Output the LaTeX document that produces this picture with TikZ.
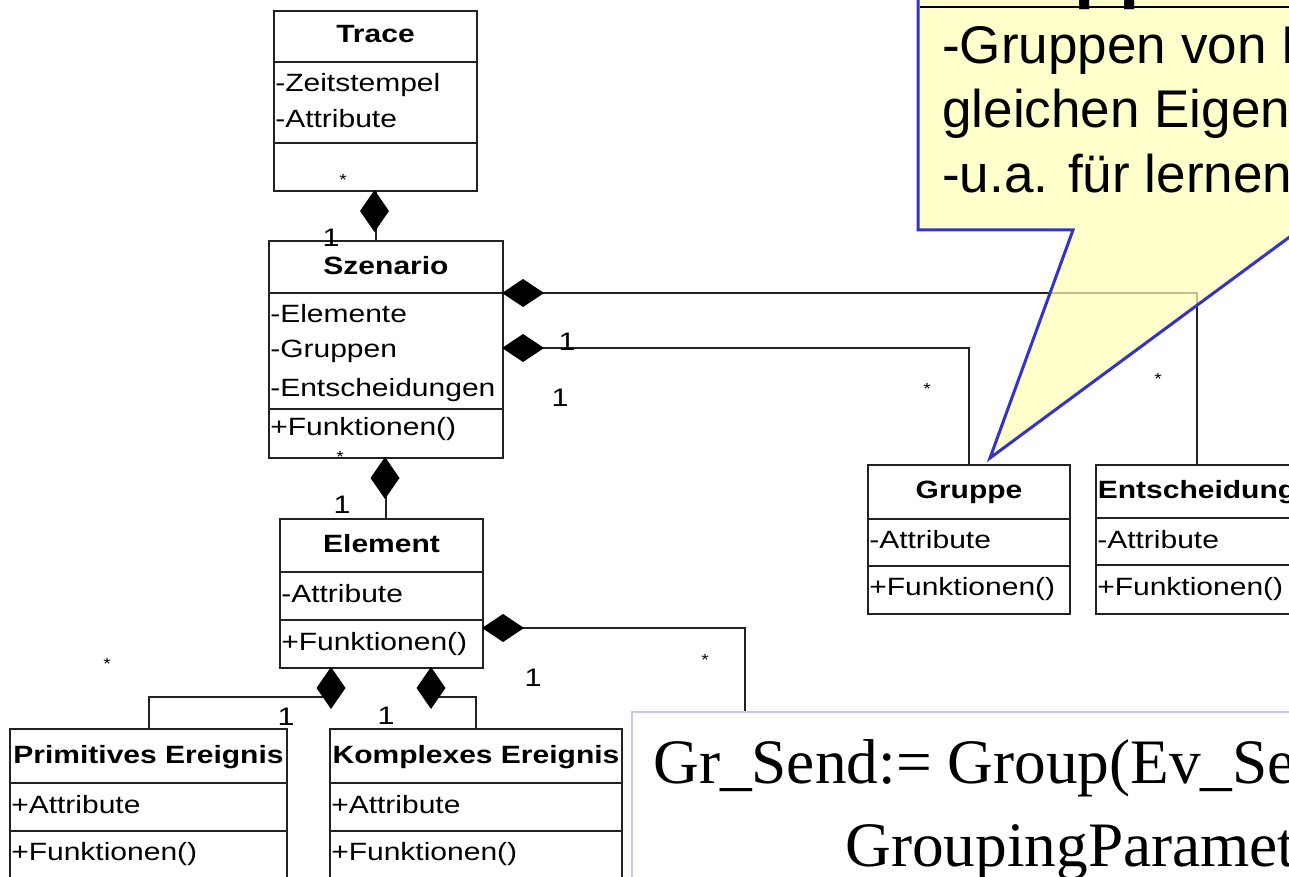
\documentclass[tikz,border=0pt]{standalone}
\usepackage{fontspec}
\setmainfont{Liberation Sans}
\newfontfamily\umlfont[FakeStretch=1.2]{Liberation Sans}
\newfontfamily\codefont{Liberation Serif}
\usetikzlibrary{calc}
\definecolor{noteblue}{HTML}{3333CC}
\definecolor{noteyellow}{HTML}{FFFFB8}
\definecolor{codeframe}{HTML}{C8C8F0}
\definecolor{umlline}{HTML}{222222}

% filled composition diamonds: vertical (tip on top) and horizontal (tip on the left)
\newcommand\vdia[2]{\fill[black] (#1,#2) -- ++(14.5,21) -- ++(-14.5,21) -- ++(-14.5,-21) -- cycle;}
\newcommand\hdia[2]{\fill[black] (#1,#2) -- ++(21,-14) -- ++(21,14) -- ++(-21,14) -- cycle;}

\tikzset{
  cls/.style={draw=umlline, line width=1.5pt, inner sep=0pt, anchor=north west, fill=white},
  sep/.style={draw=umlline, line width=1.5pt},
  assoc/.style={draw=umlline, line width=1.5pt},
  ttl/.style={font=\umlfont\fontsize{18.75}{20}\selectfont\bfseries, anchor=base, inner sep=0pt},
  mem/.style={font=\umlfont\fontsize{18.75}{20}\selectfont, anchor=base west, inner sep=0pt},
  mult/.style={font=\umlfont\fontsize{19}{20}\selectfont, inner sep=0pt},
  star/.style={font=\umlfont\fontsize{12}{12}\selectfont, inner sep=0pt},
  notetext/.style={font=\fontsize{39.8}{48}\selectfont, anchor=base west, inner sep=0pt},
  codetext/.style={font=\codefont\fontsize{47.5}{56}\selectfont, anchor=base west, inner sep=0pt},
}

\begin{document}
\begin{tikzpicture}[x=0.75pt,y=-0.75pt]
\useasboundingbox (0,0) rectangle (1289,877);
\fill[white] (0,0) rectangle (1289,877);
\clip (0,0) rectangle (1289,877);

% ---------- class boxes ----------
\node[cls, minimum width=203*0.75pt, minimum height=180*0.75pt] (trace) at (273,10) {};
\node[cls, minimum width=234*0.75pt, minimum height=217*0.75pt] (szen) at (268,240) {};
\node[cls, minimum width=203*0.75pt, minimum height=149*0.75pt] (elem) at (279,518) {};
\node[cls, minimum width=202*0.75pt, minimum height=149*0.75pt] (grp) at (867,464) {};
\node[cls, minimum width=202*0.75pt, minimum height=149*0.75pt] (ent) at (1095,464) {};
\node[cls, minimum width=277*0.75pt, minimum height=200*0.75pt] (prim) at (9,728) {};
\node[cls, minimum width=292*0.75pt, minimum height=200*0.75pt] (komp) at (329,728) {};

% compartment separators
\draw[sep] (trace.west |- 0,62) -- (trace.east |- 0,62);
\draw[sep] (trace.west |- 0,143) -- (trace.east |- 0,143);
\draw[sep] (szen.west |- 0,293) -- (szen.east |- 0,293);
\draw[sep] (szen.west |- 0,409) -- (szen.east |- 0,409);
\draw[sep] (elem.west |- 0,572) -- (elem.east |- 0,572);
\draw[sep] (elem.west |- 0,620) -- (elem.east |- 0,620);
\draw[sep] (grp.west |- 0,519) -- (grp.east |- 0,519);
\draw[sep] (grp.west |- 0,566) -- (grp.east |- 0,566);
\draw[sep] (ent.west |- 0,518) -- (ent.east |- 0,518);
\draw[sep] (ent.west |- 0,565) -- (ent.east |- 0,565);
\draw[sep] (prim.west |- 0,783) -- (prim.east |- 0,783);
\draw[sep] (prim.west |- 0,831) -- (prim.east |- 0,831);
\draw[sep] (komp.west |- 0,783) -- (komp.east |- 0,783);
\draw[sep] (komp.west |- 0,831) -- (komp.east |- 0,831);

% class texts
\node[ttl] (traceT) at (trace.north |- 0,43) {Trace};
\node[mem] (traceA1) at (275,92) {-Zeitstempel};
\node[mem] (traceA2) at (275,128) {-Attribute};

\node[ttl] (szenT) at (szen.north |- 0,275) {Szenario};
\node[mem] (szenA1) at (270,323) {-Elemente};
\node[mem] (szenA2) at (270,358) {-Gruppen};
\node[mem] (szenA3) at (270,397) {-Entscheidungen};
\node[mem] (szenO1) at (270,435) {+Funktionen()};

\node[ttl] (elemT) at (elem.north |- 0,552) {Element};
\node[mem] (elemA1) at (281,602) {-Attribute};
\node[mem] (elemO1) at (281,650) {+Funktionen()};

\node[ttl] (grpT) at (grp.north |- 0,498) {Gruppe};
\node[mem] (grpA1) at (869,548) {-Attribute};
\node[mem] (grpO1) at (869,595) {+Funktionen()};

\node[ttl] (entT) at (ent.north |- 0,498) {Entscheidung};
\node[mem] (entA1) at (1097,548) {-Attribute};
\node[mem] (entO1) at (1097,595) {+Funktionen()};

\node[ttl] (primT) at (prim.north |- 0,763) {Primitives Ereignis};
\node[mem] (primA1) at (11,813) {+Attribute};
\node[mem] (primO1) at (11,860) {+Funktionen()};

\node[ttl] (kompT) at (komp.north |- 0,763) {Komplexes Ereignis};
\node[mem] (kompA1) at (331,813) {+Attribute};
\node[mem] (kompO1) at (331,860) {+Funktionen()};

% ---------- composition connectors ----------
\coordinate (hid) at (745,711);
\draw[assoc] (trace.south) -- (szen.north -| trace.south);
\draw[assoc] (szen.south) -- (elem.north -| szen.south);
\draw[assoc] (szen.east |- 0,293) -| (ent.north);
\draw[assoc] (szen.east |- 0,348) -| (grp.north);
\draw[assoc] (elem.east |- 0,628) -| (hid);
\draw[assoc] (elem.south -| 331,0) -- (331,697) -| (prim.north);
\draw[assoc] (elem.south -| 431,0) -- (431,697) -| (komp.north);

\vdia{374.5}{190}
\vdia{385}{457}
\hdia{502}{293}
\hdia{502}{348}
\hdia{482}{628}
\vdia{331}{667}
\vdia{431}{667}

% multiplicities
\node[star] (m1) at (343,180) {*};
\node[mult] (m2) at (331,238) {1};
\node[star] (m3) at (340,457) {*};
\node[mult] (m4) at (342,505) {1};
\node[mult] (m5) at (567,342) {1};
\node[mult] (m6) at (560,398) {1};
\node[star] (m7) at (927,389) {*};
\node[star] (m8) at (1158,379) {*};
\node[star] (m9) at (705,660) {*};
\node[mult] (m10) at (533,678) {1};
\node[star] (m11) at (107,664) {*};
\node[mult] (m12) at (286,717) {1};
\node[mult] (m13) at (386,716) {1};

% ---------- callout ----------
\path[fill=noteyellow, fill opacity=0.72]
  (918,-40) -- (918,230) -- (1073,230) -- (990,458) -- (1299,230) -- (1400,230) -- (1400,-40) -- cycle;
\draw[noteblue, line width=2.25pt]
  (918,-40) -- (918,230) -- (1073,230) -- (990,458) -- (1299,230) -- (1400,230) -- (1400,-40) -- cycle;
\node[anchor=base west, inner sep=0pt, font=\fontsize{55}{60}\selectfont\bfseries] (noteT) at (944,-5.5) {Gruppe};
\draw[black, line width=1.5pt] (919.5,7) -- (1400,7);
\node[notetext] (noteL1) at (942,64) {-Gruppen von Ereignissen};
\node[notetext] (noteL2) at (942,128) {gleichen Eigenschaften};
\node[notetext] (noteL3) at (942,193) {-u.a. für lernende};

% ---------- definition box ----------
\node[draw=codeframe, line width=1.5pt, fill=white, anchor=north west, inner sep=0pt,
      minimum width=800*0.75pt, minimum height=300*0.75pt] (code) at (631,711) {};
\node[codetext] (codeL1) at (653,783) {Gr\_Send:= Group(Ev\_Send};
\node[codetext] (codeL2) at (845,866) {GroupingParameter};
\end{tikzpicture}
\end{document}
